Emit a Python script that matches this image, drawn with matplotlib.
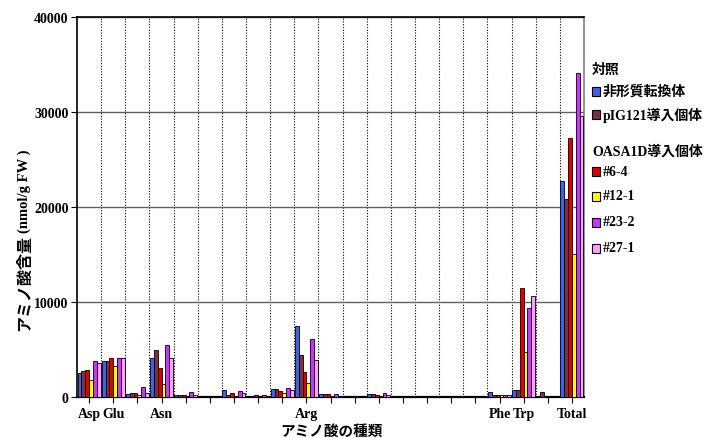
import matplotlib
matplotlib.use("Agg")
import matplotlib.pyplot as plt
import numpy as np
from matplotlib.patches import Rectangle

SERIF = ["Liberation Serif", "Noto Sans CJK JP"]
GOTHIC = ["Noto Sans CJK JP", "DejaVu Sans"]

# 21 categories, only some are labelled in the original
categories = ["Asp", "Glu", "", "Asn", "", "", "", "", "", "Arg", "",
              "", "", "", "", "", "", "Phe", "Trp", "", "Total"]

non_transformed = [2500, 3750, 300, 4070, 260, 50, 720, 50, 820, 7440, 270,
                   40, 280, 20, 20, 30, 30, 520, 740, 30, 22700]
pig121 = [2780, 3750, 400, 4950, 260, 50, 240, 80, 810, 4420, 270,
          40, 280, 20, 20, 30, 30, 200, 740, 500, 20850]
oasa_6_4 = [2840, 4060, 400, 3020, 210, 40, 400, 200, 620, 2600, 270,
            40, 260, 20, 20, 30, 30, 190, 11440, 30, 27250]
oasa_12_1 = [1770, 3300, 200, 1330, 150, 30, 80, 30, 420, 1440, 140,
             60, 150, 20, 20, 30, 30, 190, 4700, 20, 15100]
oasa_23_2 = [3770, 4060, 1020, 5470, 500, 60, 620, 180, 910, 6100, 280,
             40, 420, 20, 20, 40, 40, 200, 9400, 20, 34100]
oasa_27_1 = [3540, 4060, 390, 4140, 210, 40, 400, 100, 720, 3890, 150,
             30, 200, 20, 20, 30, 30, 160, 10600, 20, 29600]

series = [non_transformed, pig121, oasa_6_4, oasa_12_1, oasa_23_2, oasa_27_1]
series_labels = ["非形質転換体", "pIG121導入個体", "#6-4", "#12-1", "#23-2", "#27-1"]
colors = ["#4060E8", "#7E3040", "#E00000", "#FFFF00", "#CC33FF", "#FFA0FF"]

W, H = 706, 439
fig = plt.figure(figsize=(W / 100, H / 100), dpi=100)
ax = fig.add_axes([77 / W, 41 / H, 507 / W, 380 / H])

n = len(categories)
centers = np.arange(n) + 0.5
bw = 0.158
for i, (vals, col) in enumerate(zip(series, colors)):
    ax.bar(centers + (i - 2.5) * bw, vals, width=bw, color=col,
           edgecolor="black", linewidth=0.6, zorder=3)

ax.set_xlim(0, n)
ax.set_ylim(0, 40000)
ax.set_yticks([0, 10000, 20000, 30000, 40000])
ax.set_xticks(centers)
ax.set_xticklabels(categories)
ax.set_xticks(np.arange(1, n), minor=True)

for lab in ax.get_xticklabels() + ax.get_yticklabels():
    lab.set_fontfamily(SERIF)
    lab.set_fontweight("bold")
    lab.set_fontsize(10)

ax.tick_params(axis="x", which="major", direction="out", length=4, width=0.8, pad=3)
ax.tick_params(axis="x", which="minor", length=0)
ax.tick_params(axis="y", direction="out", length=4, width=0.8, pad=2)

ax.yaxis.grid(True, color="#606060", linewidth=1.0, zorder=1)
ax.xaxis.grid(True, which="minor", color="black", linestyle=(0, (1, 1.5)),
              linewidth=0.8, zorder=1)

for side in ["left", "bottom", "top"]:
    ax.spines[side].set_color("black")
    ax.spines[side].set_linewidth(1.2)
ax.spines["bottom"].set_linewidth(1.6)
ax.spines["right"].set_color("#808080")
ax.spines["right"].set_linewidth(1.2)


def fx(px):
    return px / W


def fy(py):
    return 1 - py / H


# y-axis label: Japanese part + unit part
fig.text(fx(24), fy(331), "アミノ酸含量", rotation=90, ha="center", va="bottom",
         fontsize=11.5, fontweight="bold", family=GOTHIC)
fig.text(fx(24), fy(233), "(nmol/g FW )", rotation=90, ha="center", va="bottom",
         fontsize=10.5, fontweight="bold", family=SERIF)

# x-axis label
fig.text(fx(331), fy(431), "アミノ酸の種類", ha="center", va="center",
         fontsize=10.5, fontweight="bold", family=GOTHIC)

# legend drawn by hand
fig.text(fx(592), fy(70), "対照", ha="left", va="center",
         fontsize=10, fontweight="bold", family=GOTHIC)
fig.text(fx(592), fy(152), "OASA1D導入個体", ha="left", va="center",
         fontsize=10, fontweight="bold", family=SERIF)

legend_y = [92, 115, 172, 197, 223, 249]
for lab, col, py in zip(series_labels, colors, legend_y):
    fig.patches.append(Rectangle((fx(592), fy(py + 4.5)), 8 / W, 9 / H,
                                 transform=fig.transFigure, facecolor=col,
                                 edgecolor="black", linewidth=0.8))
    fig.text(fx(603), fy(py), lab, ha="left", va="center",
             fontsize=10, fontweight="bold", family=SERIF)

fig.savefig("out.png", dpi=100)
